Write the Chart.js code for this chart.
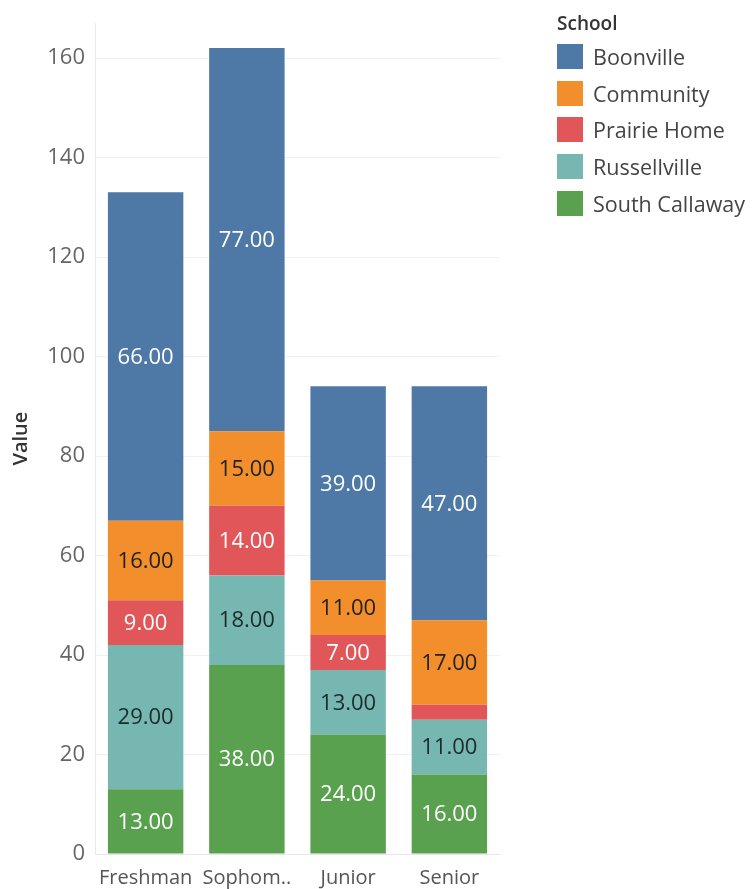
<!DOCTYPE html>
<html>
<head>
<meta charset="utf-8">
<script src="https://cdn.jsdelivr.net/npm/chart.js@4"></script>
<style>
    body { margin: 0; background: #fff; font-family: "Open Sans", sans-serif; }
    #wrap { position: relative; width: 752px; height: 889px; }
    #legend { position: absolute; left: 557px; top: 8px; color: #444; }
    #legend .title { font-size: 19px; font-weight: 600; color: #333; height: 30px; line-height: 30px; }
    #legend .item { display: flex; align-items: center; height: 36.7px; font-size: 21.5px; }
    #legend .swatch { width: 26px; height: 25px; margin-right: 10px; flex: none; }
</style>
</head>
<body>
<div id="wrap">
    <canvas id="chart" width="752" height="889"></canvas>
    <div id="legend"></div>
</div>
<script>
// grade levels along the x axis
const grades = ['Freshman', 'Sophom..', 'Junior', 'Senior'];

// schools, bottom of the stack first
const schools = ['South Callaway', 'Russellville', 'Prairie Home', 'Community', 'Boonville'];
const legendOrder = ['Boonville', 'Community', 'Prairie Home', 'Russellville', 'South Callaway'];

const southCallaway = [13, 38, 24, 16];
const russellville = [29, 18, 13, 11];
const prairieHome = [9, 14, 7, 3];
const community = [16, 15, 11, 17];
const boonville = [66, 77, 39, 47];

const yTicks = [0, 20, 40, 60, 80, 100, 120, 140, 160];

const schoolColors = {
    'Boonville': '#4e79a7',
    'Community': '#f28e2b',
    'Prairie Home': '#e15759',
    'Russellville': '#76b7b2',
    'South Callaway': '#59a14f'
};
const labelColors = {
    'Boonville': '#ffffff',
    'Community': '#222222',
    'Prairie Home': '#ffffff',
    'Russellville': '#1e2a2a',
    'South Callaway': '#ffffff'
};

const seriesData = [southCallaway, russellville, prairieHome, community, boonville];

Chart.defaults.font.family = '"Open Sans", sans-serif';

const datasets = schools.map((name, i) => ({
    label: name,
    data: seriesData[i],
    backgroundColor: schoolColors[name],
    borderWidth: 0,
    categoryPercentage: 1,
    barPercentage: 0.745
}));

// value labels drawn in the middle of each segment
const segmentLabels = {
    id: 'segmentLabels',
    afterDatasetsDraw(chart) {
        const ctx = chart.ctx;
        ctx.save();
        ctx.font = '22px "Open Sans"';
        ctx.textAlign = 'center';
        ctx.textBaseline = 'middle';
        chart.data.datasets.forEach((ds, i) => {
            const meta = chart.getDatasetMeta(i);
            meta.data.forEach((bar, j) => {
                const h = Math.abs(bar.base - bar.y);
                if (h < 22) return; // too small, Tableau hides these
                ctx.fillStyle = labelColors[ds.label];
                ctx.fillText(ds.data[j].toFixed(2), bar.x, (bar.y + bar.base) / 2 + 1);
            });
        });
        ctx.restore();
    }
};

new Chart(document.getElementById('chart'), {
    type: 'bar',
    data: { labels: grades, datasets: datasets },
    options: {
        responsive: false,
        animation: false,
        layout: { padding: { top: 0, right: 252, left: 0, bottom: 0 } },
        plugins: {
            legend: { display: false },
            tooltip: { enabled: false }
        },
        scales: {
            x: {
                stacked: true,
                grid: { display: false, drawTicks: false },
                border: { color: '#e8e8e8' },
                ticks: { color: '#555', font: { size: 20 }, padding: 12 },
                afterFit: (scale) => { scale.height = 35; }
            },
            y: {
                stacked: true,
                min: 0,
                max: 167,
                grid: { color: '#f0f0f0', drawTicks: false },
                border: { color: '#e8e8e8' },
                ticks: { stepSize: 20, color: '#666', font: { size: 22 }, padding: 10 },
                afterBuildTicks: (scale) => {
                    scale.ticks = yTicks.map(v => ({ value: v }));
                },
                title: {
                    display: true,
                    text: 'Value',
                    color: '#333',
                    font: { size: 20, weight: '600' },
                    padding: { top: 9, bottom: 0 }
                },
                afterFit: (scale) => { scale.width = 95; }
            }
        }
    },
    plugins: [segmentLabels]
});

// legend built from the school list
const legend = document.getElementById('legend');
legend.innerHTML = '<div class="title">School</div>' + legendOrder.map(name =>
    `<div class="item"><span class="swatch" style="background:${schoolColors[name]}"></span>${name}</div>`
).join('');
</script>
</body>
</html>
